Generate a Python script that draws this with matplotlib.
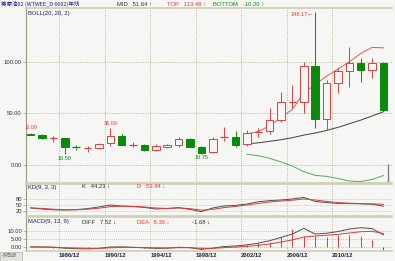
import matplotlib
matplotlib.use("Agg")
import matplotlib.pyplot as plt
from matplotlib.patches import Rectangle

plt.rcParams['font.family'] = ['Liberation Sans', 'Noto Sans CJK SC']

# yearly candles, 1983 - 2014
years = list(range(1983, 2015))
opens = [30.5, 29.2, 25.8, 26.0, 17.4, 16.0, 16.3, 21.5, 28.0, 19.0, 19.5, 14.5, 17.5, 19.5, 25.5, 17.5,
         12.5, 26.5, 26.8, 20.0, 31.5, 32.5, 43.5, 61.0, 61.0, 96.0, 44.6, 79.5, 91.4, 99.0, 92.0, 98.5]
highs = [31.5, 30.0, 28.5, 26.5, 19.5, 18.4, 21.0, 36.0, 29.7, 22.5, 20.0, 20.5, 20.5, 27.5, 26.5, 18.0,
         27.5, 37.0, 32.5, 33.5, 36.0, 55.5, 70.5, 78.0, 99.5, 148.17, 82.0, 94.0, 114.8, 104.0, 104.0, 99.5]
lows = [29.0, 25.5, 22.6, 10.5, 15.0, 12.9, 15.5, 18.5, 19.0, 17.5, 13.8, 14.0, 16.5, 17.5, 17.0, 10.75,
        11.5, 23.0, 17.7, 18.0, 27.0, 30.5, 42.0, 55.0, 50.5, 36.0, 33.5, 70.0, 75.7, 80.5, 84.0, 52.0]
closes = [29.5, 26.4, 26.0, 17.5, 16.9, 16.3, 20.5, 28.0, 19.5, 19.5, 14.2, 18.5, 19.5, 25.5, 17.5, 12.0,
          25.6, 27.2, 19.8, 31.5, 32.2, 43.5, 61.0, 61.5, 96.0, 44.6, 79.4, 91.4, 98.8, 92.0, 98.5, 53.3]

# BOLL lines start at 2002
boll_start = 19
boll_mid = [20.5, 21.5, 23.0, 24.5, 26.5, 29.0, 31.0, 33.5, 36.5, 40.0, 43.5, 47.5, 51.64]
boll_top = [30.0, 32.5, 38.0, 46.0, 54.0, 70.0, 78.0, 86.0, 93.0, 100.0, 108.0, 114.0, 113.48]
boll_bot = [10.5, 9.0, 6.5, 3.0, -1.0, -6.5, -10.0, -11.0, -13.0, -15.5, -16.0, -14.0, -10.20]

kd_k = [35, 30, 26, 25, 27, 32, 40, 50, 45, 42, 38, 30, 32, 37, 28, 17,
        35, 45, 48, 55, 66, 72, 75, 80, 88, 68, 62, 58, 57, 56, 54, 44.23]
kd_d = [36, 33, 29, 26, 26, 29, 34, 42, 44, 43, 40, 35, 33, 35, 32, 24,
        28, 37, 43, 50, 58, 65, 70, 74, 80, 75, 68, 62, 59, 57, 56, 53.44]

macd_diff = [0.3, 0.2, 0.0, -0.5, -0.8, -0.9, -0.6, 0.2, 0.3, 0.0, -0.3, -0.6, -0.5, 0.0, -0.2, -1.2,
             -0.5, 0.5, 0.8, 1.5, 2.5, 4.0, 6.0, 8.0, 11.4, 8.0, 8.5, 9.5, 11.0, 11.8, 11.3, 7.52]
macd_dea = [0.2, 0.2, 0.1, -0.2, -0.4, -0.6, -0.6, -0.3, 0.0, 0.0, -0.1, -0.3, -0.4, -0.2, -0.2, -0.6,
            -0.6, -0.2, 0.2, 0.6, 1.2, 2.0, 3.2, 4.5, 6.2, 6.8, 7.3, 7.8, 8.6, 9.4, 9.6, 8.36]
macd_bar = [0.1, 0.0, -0.2, -0.5, -0.6, -0.5, 0.0, 0.8, 0.5, 0.0, -0.4, -0.5, -0.2, 1.0, 0.0, -1.2,
            0.2, 0.6, 0.8, 1.2, 2.4, 3.3, 6.0, 10.8, 6.6, 6.6, 6.2, 7.4, 7.4, 6.6, 4.4, -1.68]

grid_years = [1986, 1990, 1994, 1998, 2002, 2006, 2010]

W, H = 395, 261
bg = '#f6f6f4'
red = '#e03c3c'
green = '#0a8a0a'
gridc = '#b8b890'
txt = 4.2

fig = plt.figure(figsize=(W / 100, H / 100), dpi=100)
fig.patch.set_facecolor(bg)


def box(x0, y0, x1, y1):
    return [x0 / W, 1 - y1 / H, (x1 - x0) / W, (y1 - y0) / H]


def ftext(x, y, s, **kw):
    kw.setdefault('fontsize', txt)
    fig.text(x / W, 1 - y / H, s, va='center', **kw)


ax1 = fig.add_axes(box(26, 8, 392, 183))
ax2 = fig.add_axes(box(26, 184, 392, 216))
ax3 = fig.add_axes(box(26, 217, 392, 251))

xs = list(range(len(years)))
grid_x = [years.index(y) - 0.5 for y in grid_years]

for ax in (ax1, ax2, ax3):
    ax.set_facecolor(bg)
    ax.set_xlim(-0.41, 31.75)
    ax.spines['right'].set_visible(False)
    ax.spines['left'].set_color('#9a9a78')
    ax.spines['left'].set_linewidth(0.8)
    for s in ('top', 'bottom'):
        ax.spines[s].set_color('#cfcfb4')
        ax.spines[s].set_linewidth(1.2)
    for gx in grid_x:
        ax.axvline(gx, color=gridc, lw=0.7, ls=(0, (1, 1.5)), zorder=0)
    ax.tick_params(axis='y', length=2, width=0.5, color='#9a9a78', labelsize=txt,
                   labelcolor='#303030', pad=1)
    ax.tick_params(axis='x', length=0)

# ---- main panel: candles + BOLL
ax1.set_ylim(-17.4, 152.1)
ax1.set_yticks([0, 50, 100])
ax1.set_yticklabels(['0.00', '50.00', '100.00'])
for v in (0, 50, 100):
    ax1.axhline(v, color=gridc, lw=0.7, ls=(0, (1, 1.5)), zorder=0)
ax1.set_xticks([])

bw = 0.66
for i in xs:
    o, h, l, c = opens[i], highs[i], lows[i], closes[i]
    up = c >= o
    col = red if up else green
    lo_b, hi_b = min(o, c), max(o, c)
    ax1.vlines(i, hi_b, h, color=col, lw=0.7, zorder=3)
    ax1.vlines(i, l, lo_b, color=col, lw=0.7, zorder=3)
    if hi_b - lo_b < 1.0:
        ax1.hlines((o + c) / 2, i - bw / 2, i + bw / 2, color=col, lw=0.9, zorder=3)
    else:
        ax1.add_patch(Rectangle((i - bw / 2, lo_b), bw, hi_b - lo_b,
                                facecolor=bg if up else green, edgecolor=col, lw=0.7, zorder=4))

bx = xs[boll_start:]
ax1.plot(bx, boll_top, color='#e05a5a', lw=0.7, zorder=2)
ax1.plot(bx, boll_mid, color='#404040', lw=0.7, zorder=2)
ax1.plot(bx, boll_bot, color='#5aa85a', lw=0.7, zorder=2)
ax1.vlines(31.4, -17.4, 1, color='#808080', lw=1.0, zorder=2)

ax1.text(0, highs[0] + 2.5, '32.00', color=red, fontsize=4, ha='center', va='bottom', clip_on=True)
ax1.text(7, highs[7] + 1.5, '36.00', color=red, fontsize=4, ha='center', va='bottom')
ax1.text(3, lows[3] - 1.5, '10.50', color=green, fontsize=4, ha='center', va='top')
ax1.text(15, lows[15] - 1.5, '10.75', color=green, fontsize=4, ha='center', va='top')
ax1.text(24.85, highs[25] - 2, '148.17\u2190', color=red, fontsize=4, ha='right', va='center')

# ---- KD panel
ax2.set_ylim(-5, 155)
ax2.set_yticks([20, 50, 80])
ax2.set_yticklabels(['20', '50', '80'])
for v in (20, 50, 80):
    ax2.axhline(v, color=gridc, lw=0.5, ls=(0, (1, 1.5)), zorder=0)
ax2.set_xticks([])
ax2.plot(xs, kd_k, color='#505050', lw=0.7)
ax2.plot(xs, kd_d, color=red, lw=0.7)

# ---- MACD panel
ax3.set_ylim(-2.2, 18.25)
ax3.set_yticks([0, 5, 10])
ax3.set_yticklabels(['0.00', '5.00', '10.00'])
for v in (0, 5, 10):
    ax3.axhline(v, color=gridc, lw=0.6, ls=(0, (1, 1.5)), zorder=0)
ax3.vlines(xs, 0, macd_bar, colors=[red if b >= 0 else green for b in macd_bar], lw=0.7)
ax3.plot(xs, macd_diff, color='#505050', lw=0.7)
ax3.plot(xs, macd_dea, color=red, lw=0.7)
ax3.set_xticks(grid_x)
ax3.set_xticklabels([f'{y}/12' for y in grid_years], fontsize=txt, color='#202040',
                    fontweight='bold', ha='left')
ax3.tick_params(axis='x', pad=1.5)

# ---- header texts
navy = '#1c1c80'
ftext(1, 4, '美原油02 (WTWEE_D 6602)年线', color=navy,
      family=['Noto Sans CJK SC', 'DejaVu Sans'], fontsize=4.0)
ftext(117, 4, 'MID   51.64 \u2191', color='#303030')
ftext(167, 4, 'TOP   113.48 \u2191', color=red)
ftext(213, 4, 'BOTTOM   -10.20 \u2191', color=green)
ftext(28, 13, 'BOLL(20, 20, 2)', color=navy)
ftext(28, 187, 'KD(9, 3, 3)', color=navy)
ftext(82, 187, 'K   44.23 \u2193', color='#303030')
ftext(137, 187, 'D   53.44 \u2193', color=red)
ftext(28, 222, 'MACD(9, 13, 9)', color=navy)
ftext(82, 222, 'DIFF   7.52 \u2193', color='#303030')
ftext(137, 222, 'DEA   8.36 \u2193', color=red)
ftext(192, 222, '-1.68 \u2193', color='#303030')

fig.patches.append(Rectangle((0, 0), 22 / W, 9 / H, transform=fig.transFigure,
                             facecolor='#e4e4e0', edgecolor='#b0b0a8', lw=0.5))
ftext(2, 256, '多周期', color='#808080', fontsize=3.6, family=['Noto Sans CJK SC'])

fig.savefig('out.png', dpi=100, facecolor=bg)
